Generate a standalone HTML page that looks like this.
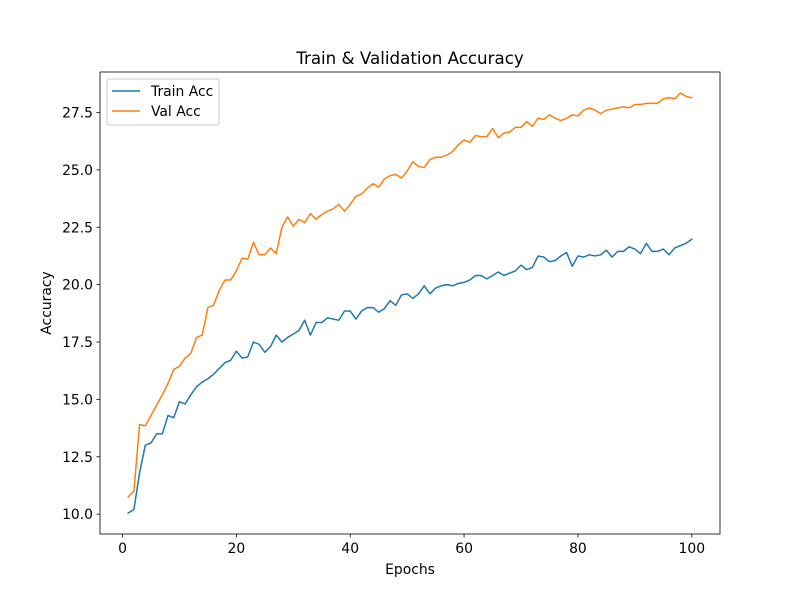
<!DOCTYPE html>
<html><head><meta charset="utf-8"><style>body{margin:0;background:#fff}svg text{font-family:"DejaVu Sans","Liberation Sans",sans-serif}</style></head>
<body>
<svg id="chart" width="800" height="600" xmlns="http://www.w3.org/2000/svg"></svg>
<script>
const trainAcc=[10.05,10.2,11.8,13.0,13.1,13.5,13.5,14.3,14.2,14.9,14.8,15.2,15.55,15.75,15.9,16.1,16.35,16.6,16.7,17.1,16.8,16.85,17.5,17.4,17.05,17.3,17.8,17.5,17.7,17.85,18.0,18.45,17.8,18.35,18.35,18.55,18.5,18.45,18.85,18.85,18.5,18.85,19.0,19.0,18.8,18.95,19.3,19.1,19.55,19.6,19.4,19.6,19.95,19.6,19.85,19.95,20.0,19.95,20.05,20.1,20.2,20.4,20.4,20.25,20.4,20.55,20.4,20.5,20.6,20.85,20.65,20.75,21.25,21.2,21.0,21.05,21.25,21.4,20.8,21.25,21.2,21.3,21.25,21.3,21.5,21.2,21.45,21.45,21.65,21.55,21.35,21.8,21.45,21.45,21.55,21.3,21.6,21.7,21.8,21.98];
const valAcc=[10.75,11.0,13.9,13.85,14.3,14.75,15.2,15.7,16.3,16.45,16.8,17.0,17.7,17.8,19.0,19.1,19.75,20.2,20.2,20.6,21.15,21.1,21.85,21.3,21.3,21.6,21.35,22.5,22.95,22.55,22.85,22.7,23.1,22.85,23.05,23.2,23.3,23.5,23.2,23.5,23.85,23.95,24.2,24.4,24.25,24.6,24.75,24.8,24.65,24.95,25.35,25.15,25.1,25.45,25.55,25.55,25.65,25.8,26.1,26.3,26.2,26.5,26.45,26.45,26.8,26.4,26.6,26.65,26.85,26.85,27.1,26.9,27.25,27.2,27.4,27.25,27.15,27.25,27.4,27.35,27.6,27.7,27.6,27.45,27.6,27.65,27.7,27.75,27.7,27.85,27.85,27.9,27.9,27.9,28.1,28.15,28.1,28.35,28.2,28.15];
const xTicks=[0,20,40,60,80,100];
const yTicks=[10,12.5,15,17.5,20,22.5,25,27.5];
const L=100,R=720,T=72,B=534;
const n=trainAcc.length;
const xmin=1-0.05*(n-1),xmax=n+0.05*(n-1);
const all=trainAcc.concat(valAcc);const dmin=Math.min(...all),dmax=Math.max(...all);
const ymin=dmin-0.05*(dmax-dmin),ymax=dmax+0.05*(dmax-dmin);
const sx=v=>L+(v-xmin)/(xmax-xmin)*(R-L);
const sy=v=>B-(v-ymin)/(ymax-ymin)*(B-T);
const svg=document.getElementById('chart');const NS='http://www.w3.org/2000/svg';
function mk(tag,attrs,parent){const e=document.createElementNS(NS,tag);for(const k in attrs)e.setAttribute(k,attrs[k]);(parent||svg).appendChild(e);return e;}
function txt(s,attrs){const e=mk('text',attrs);e.textContent=s;return e;}
function series(d,color,name){const p=mk('polyline',{points:d.map((v,i)=>sx(i+1).toFixed(2)+','+sy(v).toFixed(2)).join(' '),fill:'none',stroke:color,'stroke-width':1.5,'stroke-linejoin':'round','stroke-linecap':'square'});

}
series(trainAcc,'#1f77b4','train-acc-line');
series(valAcc,'#ff7f0e','val-acc-line');
const frame=mk('rect',{x:L,y:T,width:R-L,height:B-T,fill:'none',stroke:'#000','stroke-width':0.8});


xTicks.forEach(t=>{const x=sx(t);mk('line',{x1:x,x2:x,y1:B,y2:B+3.5,stroke:'#000','stroke-width':0.8});
const e=txt(String(t),{x:x,y:B+19,'font-size':13.9,'text-anchor':'middle',fill:'#000'});

});
yTicks.forEach(t=>{const y=sy(t);mk('line',{x1:L-3.5,x2:L,y1:y,y2:y,stroke:'#000','stroke-width':0.8});
const e=txt(t.toFixed(1),{x:L-7,y:y+5,'font-size':13.9,'text-anchor':'end',fill:'#000'});

});
const ti=txt('Train & Validation Accuracy',{x:410,y:64,'font-size':16.7,'text-anchor':'middle'});


const xl=txt('Epochs',{x:410,y:574,'font-size':13.9,'text-anchor':'middle'});


const yl=txt('Accuracy',{x:0,y:0,'font-size':13.9,'text-anchor':'middle',transform:'translate(51,303) rotate(-90)'});


const lg=mk('g',{});


mk('rect',{x:107,y:79,width:112,height:46,rx:2,fill:'#fff','fill-opacity':0.8,stroke:'#ccc','stroke-width':1},lg);
[['Train Acc','#1f77b4',91],['Val Acc','#ff7f0e',111]].forEach(([s,c,y])=>{mk('line',{x1:112,x2:140,y1:y,y2:y,stroke:c,'stroke-width':1.5},lg);
const e=mk('text',{x:151,y:y+5,'font-size':13.9},lg);e.textContent=s;

});
</script>
</body></html>
